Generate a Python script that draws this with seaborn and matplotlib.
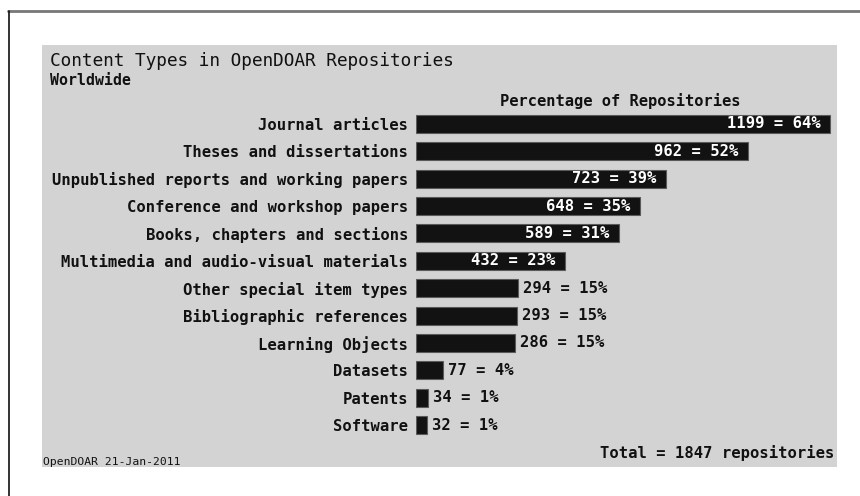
import matplotlib
matplotlib.use("Agg")
import matplotlib.pyplot as plt
import seaborn as sns
import pandas as pd
from matplotlib.patches import Rectangle
from matplotlib.lines import Line2D

categories = [
    "Journal articles",
    "Theses and dissertations",
    "Unpublished reports and working papers",
    "Conference and workshop papers",
    "Books, chapters and sections",
    "Multimedia and audio-visual materials",
    "Other special item types",
    "Bibliographic references",
    "Learning Objects",
    "Datasets",
    "Patents",
    "Software",
]
counts = [1199, 962, 723, 648, 589, 432, 294, 293, 286, 77, 34, 32]
percents = [64, 52, 39, 35, 31, 23, 15, 15, 15, 4, 1, 1]
total = 1847

df = pd.DataFrame({"category": categories, "count": counts})

sns.set_theme(style="white")
plt.rcParams["font.family"] = ["DejaVu Sans Mono"]

W, H = 860, 496
fig = plt.figure(figsize=(W / 100, H / 100), dpi=100)
fig.patch.set_facecolor("white")

def fx(px):
    return px / W

def fy(py):
    return 1 - py / H

# grey panel
fig.patches.append(Rectangle((fx(42), fy(467)), fx(837) - fx(42), fy(45) - fy(467),
                             transform=fig.transFigure, facecolor="#d3d3d3",
                             edgecolor="none", zorder=-5))
# outer border lines
fig.lines.append(Line2D([fx(8), 1], [fy(10.5), fy(10.5)], transform=fig.transFigure,
                        color="#777777", linewidth=2))
fig.lines.append(Line2D([fx(8.5), fx(8.5)], [0, fy(10.5)], transform=fig.transFigure,
                        color="#111111", linewidth=1.2))

row_top, row_bot = 124, 425
step = (row_bot - row_top) / 11
ax_top = row_top - step / 2
ax_bot = row_bot + step / 2
ax_left, ax_right = 416, 836
ax = fig.add_axes([fx(ax_left), fy(ax_bot), fx(ax_right) - fx(ax_left), fy(ax_top) - fy(ax_bot)])
ax.set_facecolor("none")
ax.set_zorder(2)

sns.barplot(data=df, x="count", y="category", orient="h", color="#121212",
            width=0.66, edgecolor="#5a5a5a", linewidth=0.8, saturation=1, ax=ax)

scale = 0.3453  # px per unit
ax.set_xlim(0, (ax_right - ax_left) / scale)
ax.set_ylim(11.5, -0.5)
for s in ax.spines.values():
    s.set_visible(False)
ax.set_xticks([])
ax.set_xlabel("")
ax.set_ylabel("")
ax.tick_params(axis="y", length=0, pad=5.5)
for lab in ax.get_yticklabels():
    lab.set_fontsize(11.2)
    lab.set_fontweight("bold")
    lab.set_color("#111111")

for i, (c, p) in enumerate(zip(counts, percents)):
    label = f"{c} = {p}%"
    if c >= 400:
        ax.annotate(label, (c, i), xytext=(-7, 0), textcoords="offset points",
                    ha="right", va="center", color="white", fontsize=11.2,
                    fontweight="bold")
    else:
        ax.annotate(label, (c, i), xytext=(3.6, 0), textcoords="offset points",
                    ha="left", va="center", color="#111111", fontsize=11.2,
                    fontweight="bold")

fig.text(fx(50), fy(66), "Content Types in OpenDOAR Repositories", fontsize=12.8,
         color="#111111", va="baseline", ha="left")
fig.text(fx(50), fy(85), "Worldwide", fontsize=10.7, fontweight="bold",
         color="#111111", va="baseline", ha="left")
fig.text(fx(620), fy(106), "Percentage of Repositories", fontsize=11.1,
         fontweight="bold", color="#111111", va="baseline", ha="center")
fig.text(fx(834), fy(458), f"Total = {total} repositories", fontsize=11.2,
         fontweight="bold", color="#111111", va="baseline", ha="right")
fig.text(fx(43), fy(465), "OpenDOAR 21-Jan-2011", fontsize=8.2,
         color="#111111", va="baseline", ha="left")

fig.savefig("out.png", dpi=100)
